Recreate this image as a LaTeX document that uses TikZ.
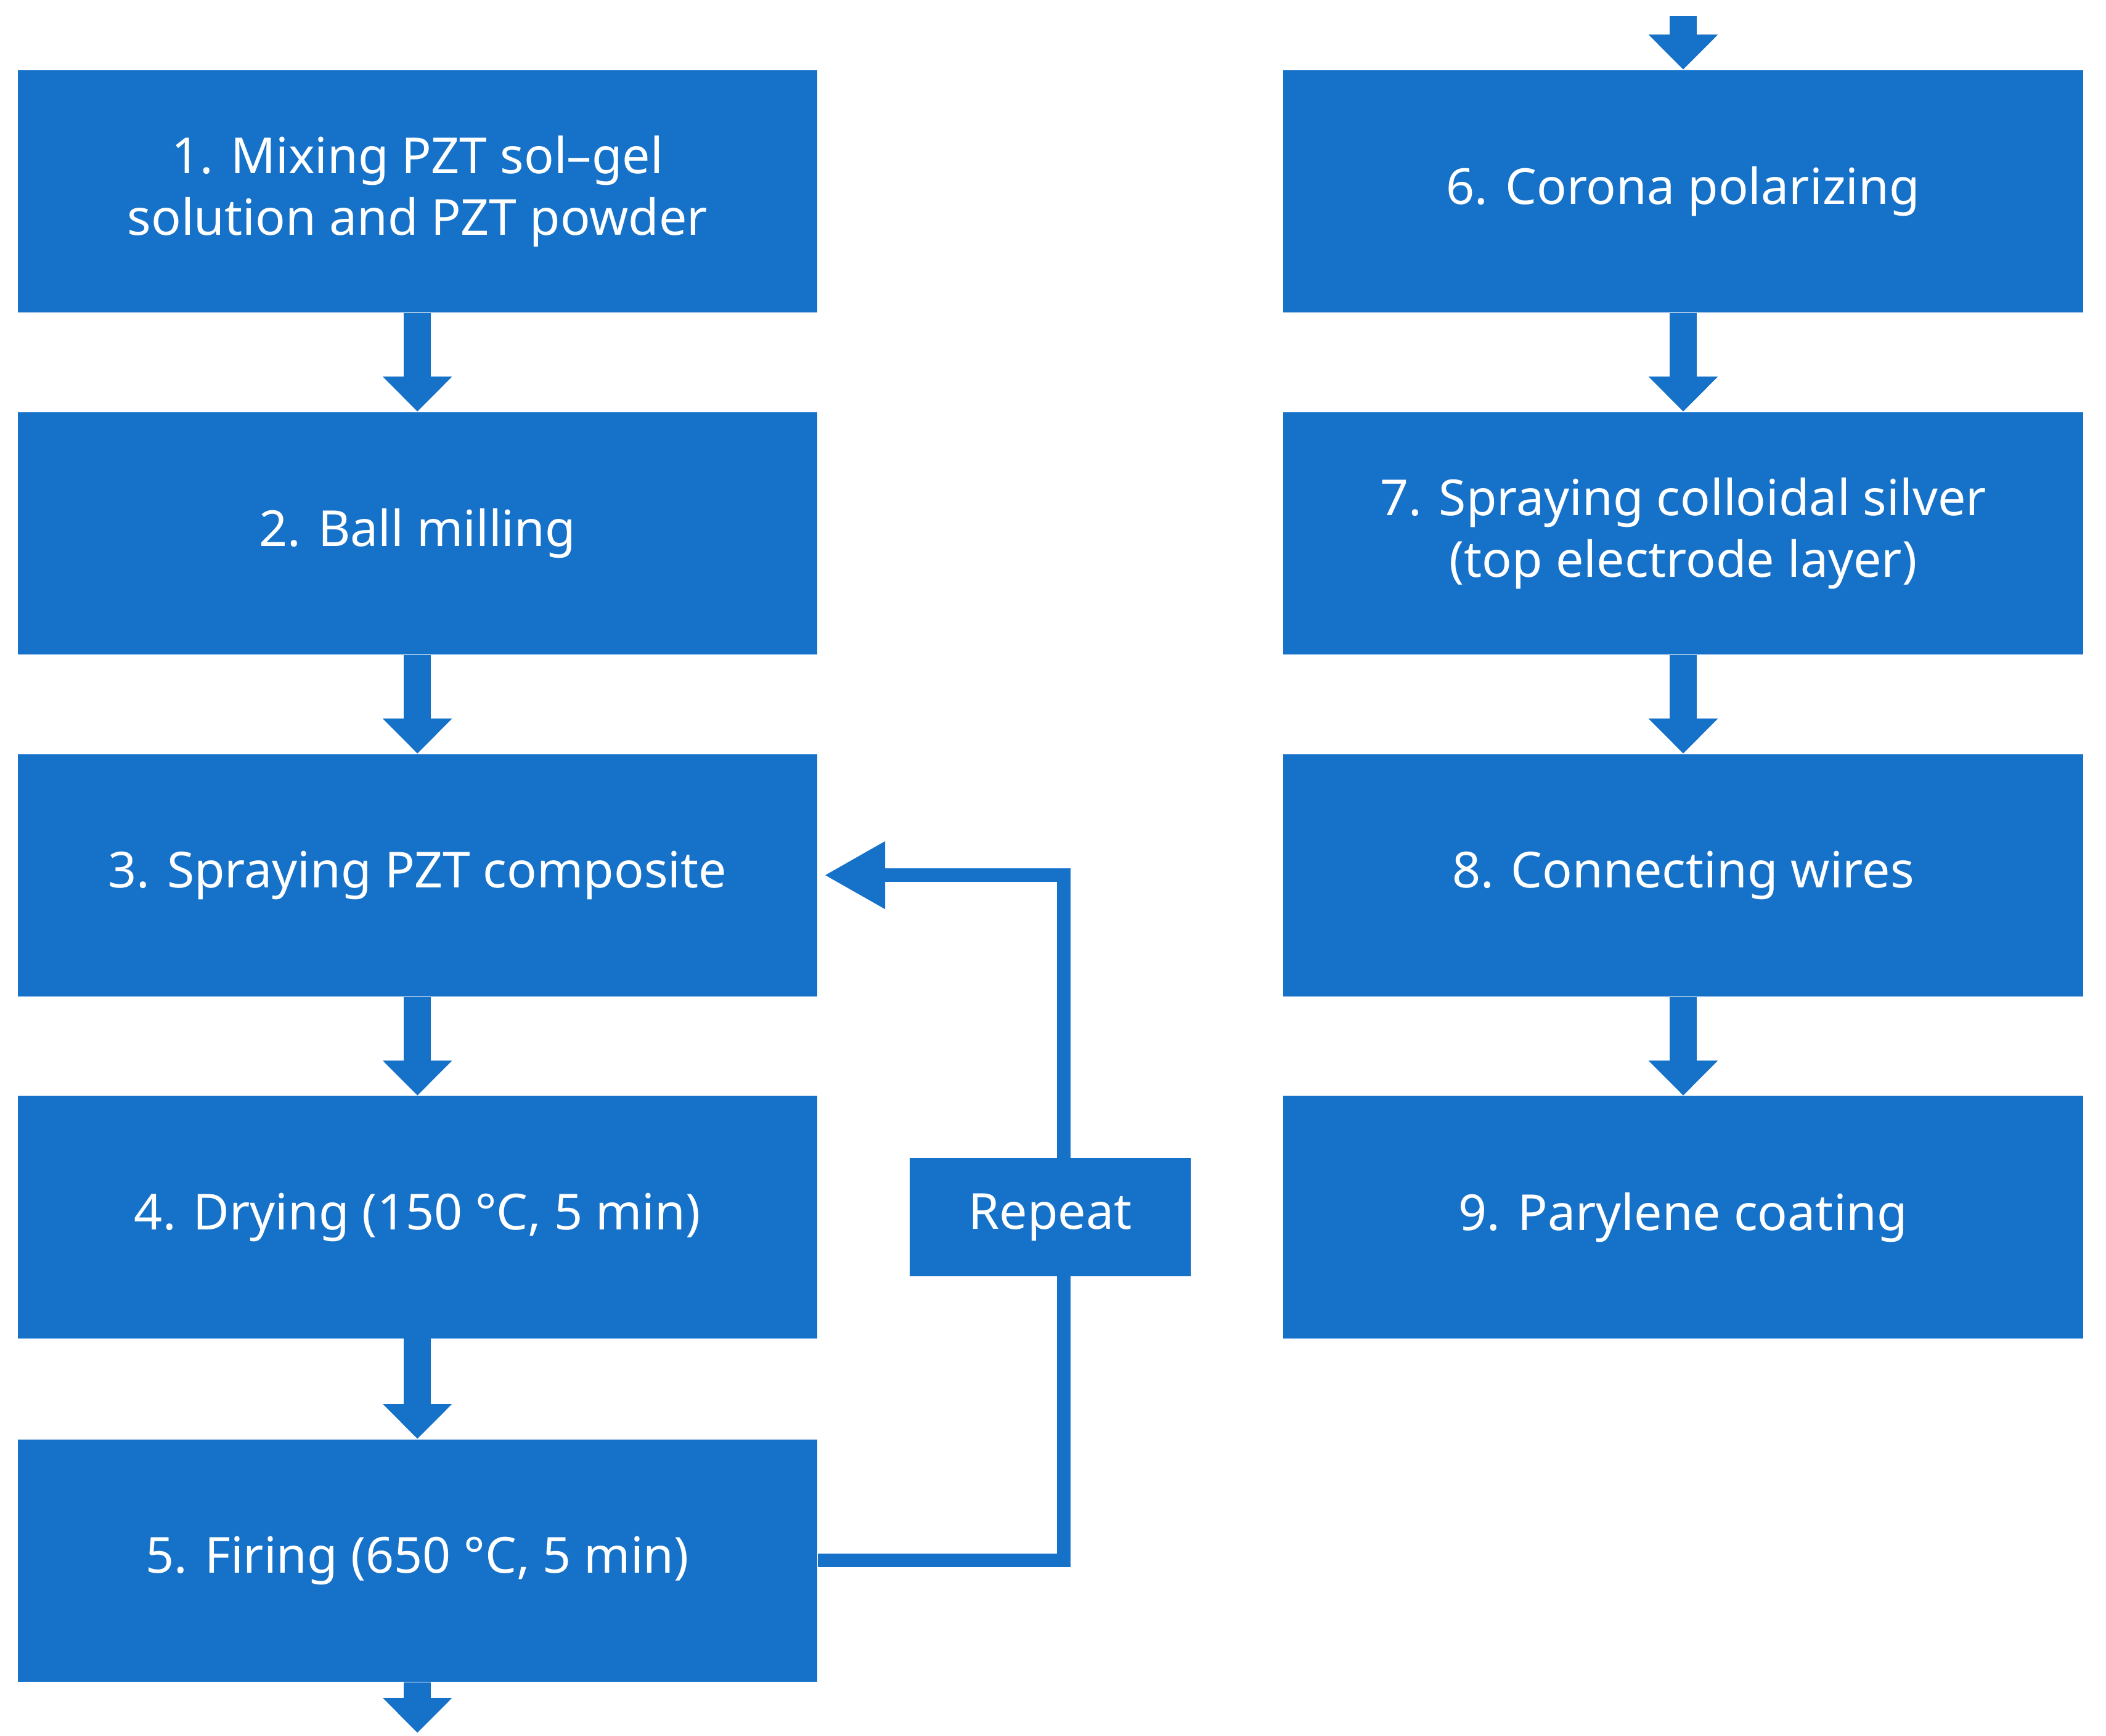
\documentclass[tikz,border=0pt]{standalone}
\usepackage{fontspec}
\setmainfont{Noto Sans}
\usetikzlibrary{arrows.meta}
\definecolor{bx}{RGB}{22,113,200}
\begin{document}
\begin{tikzpicture}[x=0.02cm,y=-0.02cm,
 box/.style={fill=bx,draw=none,minimum width=11.88cm,minimum height=3.6cm,text=white,font=\fontsize{21}{26}\selectfont,align=center,inner sep=0pt},
 flowarrow/.style={draw=bx,line width=0.4cm,-{Triangle[width=1cm,length=0.52cm]}},
 looparrow/.style={draw=bx,line width=0.2cm,-{Triangle[width=0.95cm,length=0.9cm]}}]
\useasboundingbox (0,0) rectangle (1564,1289);
\node[box] (n1) at (310,142) {1. Mixing PZT sol–gel\\solution and PZT powder};
\node[box] (n2) at (310,396) {2. Ball milling};
\node[box] (n3) at (310,650) {3. Spraying PZT composite};
\node[box] (n4) at (310,904) {4. Drying (150 °C, 5 min)};
\node[box] (n5) at (310,1159) {5. Firing (650 °C, 5 min)};
\node[box] (n6) at (1250,142) {6. Corona polarizing};
\node[box] (n7) at (1250,396) {7. Spraying colloidal silver\\(top electrode layer)};
\node[box] (n8) at (1250,650) {8. Connecting wires};
\node[box] (n9) at (1250,904) {9. Parylene coating};
\coordinate (top) at (1250,12);
\coordinate (bot) at (310,1287);
\coordinate (c1) at (790,1159);
\coordinate (c2) at (790,650);
\draw[flowarrow] (n1) -- (n2);
\draw[flowarrow] (n2) -- (n3);
\draw[flowarrow] (n3) -- (n4);
\draw[flowarrow] (n4) -- (n5);
\draw[flowarrow] (n5) -- (bot);
\draw[flowarrow] (top) -- (n6);
\draw[flowarrow] (n6) -- (n7);
\draw[flowarrow] (n7) -- (n8);
\draw[flowarrow] (n8) -- (n9);
\draw[looparrow] (n5.east) -- (c1) -- (c2) -- ([xshift=0.1cm]n3.east);
\node[box,minimum width=4.18cm,minimum height=1.76cm] (rep) at (780,904) {Repeat};
\end{tikzpicture}
\end{document}
